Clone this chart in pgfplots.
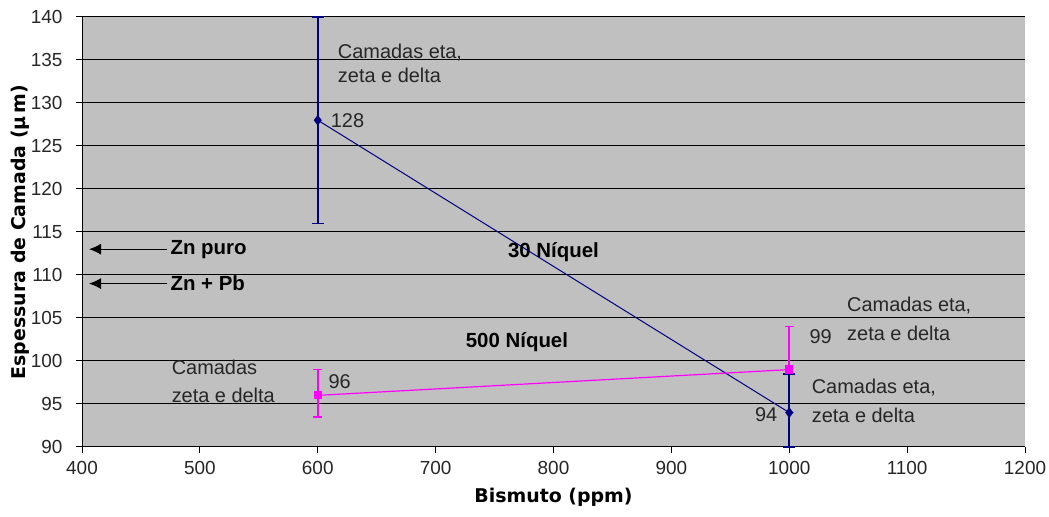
\documentclass[border=0pt]{standalone}
\usepackage{pgfplots}
\pgfplotsset{compat=1.18}
\usepackage{pgfplotstable}
\usetikzlibrary{arrows.meta}
\usepackage{fontspec}
\setmainfont{Liberation Sans}
\newfontfamily\dejab{DejaVu Sans}[BoldFont={DejaVu Sans Bold}]
\definecolor{navyc}{RGB}{0,0,128}
\definecolor{magc}{RGB}{255,0,255}
\definecolor{bgc}{RGB}{192,192,192}
\pgfplotstableread{
x y
600 128
1000 94
}\tabnavy
\pgfplotstableread{
x y
600 96
1000 99
}\tabmag
\begin{document}
\begin{tikzpicture}[x=1bp,y=1bp]
\path[use as bounding box] (0,0) rectangle (1049,517);
\begin{axis}[
  at={(82bp,70bp)}, anchor=south west,
  scale only axis, width=943bp, height=430bp,
  xmin=400, xmax=1200, ymin=90, ymax=140,
  xtick={400,500,...,1200}, ytick={90,95,...,140},
  axis x line*=bottom, axis y line*=left,
  axis line style={black, line width=1pt, -},
  tick style={black, line width=1pt},
  tick align=outside, major tick length=6bp,
  ymajorgrids, grid style={black, line width=1pt},
  axis background/.style={fill=bgc},
  tick label style={font=\fontsize{19}{22}\selectfont, text=black!85},
  xticklabel style={yshift=-5bp},
  yticklabel style={xshift=-10bp},
  /pgf/number format/assume math mode=true,
  /pgf/number format/set thousands separator={},
  xlabel={\dejab\bfseries Bismuto (ppm)},
  ylabel={\dejab\bfseries Espessura de Camada (\textmu\,m)},
  xlabel style={font=\fontsize{19}{22}\selectfont, at={(axis description cs:0.5,-0.116)}, anchor=center},
  ylabel style={font=\fontsize{19}{22}\selectfont, at={(axis description cs:-0.0657,0.5)}, anchor=center},
  clip=false,
]
% error bars (magenta)
\addplot[magc, line width=1.7pt, mark=-, mark size=4.5bp, mark options={line width=1.3pt}] coordinates {(600,93.5) (600,99)};
\addplot[magc, line width=1.7pt, mark=-, mark size=4.5bp, mark options={line width=1.3pt}] coordinates {(1000,94) (1000,104)};
% error bars (navy)
\addplot[navyc, line width=1.8pt, mark=-, mark size=6bp, mark options={line width=1.5pt}] coordinates {(600,116) (600,140)};
\addplot[navyc, line width=1.8pt, mark=-, mark size=6bp, mark options={line width=1.5pt}] coordinates {(1000,90) (1000,98.5)};
% series
\addplot[navyc, line width=1pt, mark=diamond*, mark size=4.5bp] table[x=x, y=y] {\tabnavy};
\addplot[magc, line width=1.2pt, mark=square*, mark size=3.5bp] table[x=x, y=y] {\tabmag};
\begin{scope}[every node/.style={font=\fontsize{20}{24}\selectfont, text=black!85, inner sep=0pt}]
\node[anchor=west] at (axis cs:617,135.9) {Camadas eta,};
\node[anchor=west] at (axis cs:617,133.2) {zeta e delta};
\node[anchor=west] at (axis cs:611,128) {128};
\node[anchor=west] at (axis cs:476,99.2) {Camadas};
\node[anchor=west] at (axis cs:476,96) {zeta e delta};
\node[anchor=west] at (axis cs:609,97.6) {96};
\node[anchor=west] at (axis cs:1017,102.8) {99};
\node[anchor=west] at (axis cs:1049,106.5) {Camadas eta,};
\node[anchor=west] at (axis cs:1049,103.2) {zeta e delta};
\node[anchor=west] at (axis cs:1019,96.9) {Camadas eta,};
\node[anchor=west] at (axis cs:1019,93.7) {zeta e delta};
\node[anchor=east] at (axis cs:990,93.8) {94};
\end{scope}
\begin{scope}[every node/.style={font=\bfseries\fontsize{20.5}{24}\selectfont, inner sep=0pt}]
\node at (axis cs:800,112.7) {30 Níquel};
\node at (axis cs:769,102.2) {500 Níquel};
\node[anchor=west] at (axis cs:475,113) {Zn puro};
\node[anchor=west] at (axis cs:475,109) {Zn + Pb};
\end{scope}
\draw[-{Latex[length=12bp,width=11bp]}, line width=1pt] (axis cs:472,113) -- (axis cs:406,113);
\draw[-{Latex[length=12bp,width=11bp]}, line width=1pt] (axis cs:472,109) -- (axis cs:406,109);
\end{axis}
\end{tikzpicture}
\end{document}
